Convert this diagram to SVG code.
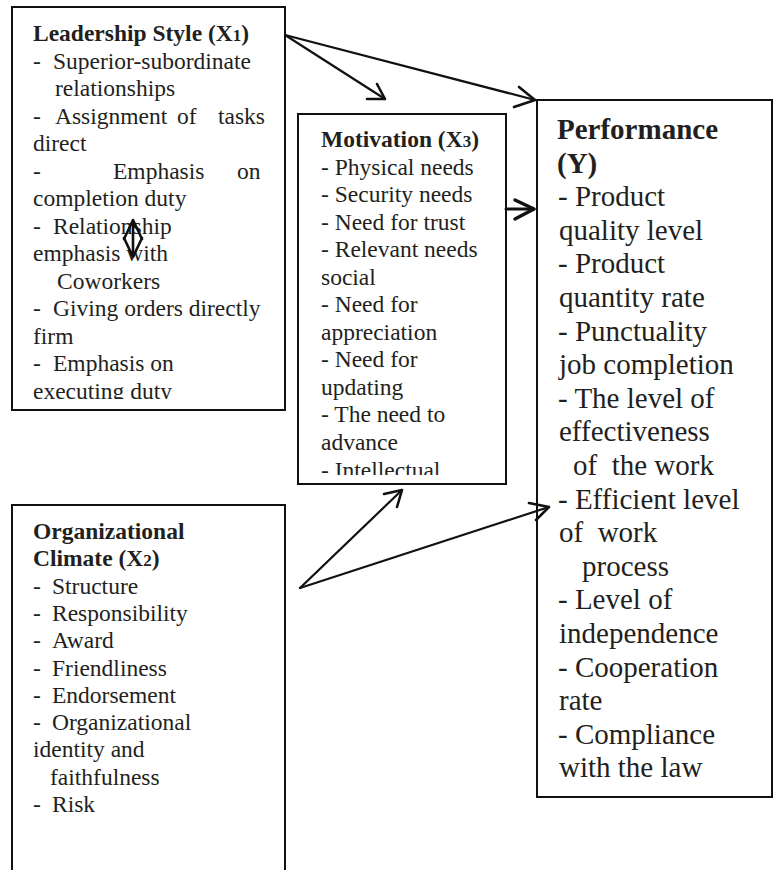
<svg xmlns="http://www.w3.org/2000/svg" width="776" height="870" viewBox="0 0 776 870">
  <defs>
    <style>
      .box { fill: #ffffff; stroke: #111111; stroke-width: 2; }
      .t { font-family: "Liberation Serif", "Times New Roman", serif; font-size: 23.5px; fill: #231f20; }
      .tl { font-family: "Liberation Serif", "Times New Roman", serif; font-size: 29px; fill: #231f20; }
      .b { font-weight: bold; }
      .sub { font-size: 17px; }
      .line { fill: none; stroke: #111111; stroke-width: 2.2; stroke-linecap: round; stroke-linejoin: round; }
      .head { fill: none; stroke: #111111; stroke-width: 2.6; stroke-linecap: round; stroke-linejoin: round; }
    </style>
    <clipPath id="clipLead"><rect x="12" y="7" width="273" height="392"/></clipPath>
    <clipPath id="clipMot"><rect x="298" y="114" width="208" height="361"/></clipPath>
  </defs>

  <rect width="776" height="870" fill="#ffffff"/>

  <!-- Leadership Style (X1) -->
  <g id="leadership">
    <rect class="box" x="12" y="7" width="273" height="403"/>
    <g clip-path="url(#clipLead)">
      <text class="t b" x="33" y="41">Leadership Style (X<tspan class="sub">1</tspan>)</text>
      <text class="t" x="33" y="68.5">-</text>
      <text class="t" x="53" y="68.5">Superior-subordinate</text>
      <text class="t" x="55" y="96">relationships</text>
      <text class="t" x="33" y="123.5">-</text>
      <text class="t" x="55" y="123.5">Assignment</text>
      <text class="t" x="177" y="123.5">of</text>
      <text class="t" x="218" y="123.5">tasks</text>
      <text class="t" x="33" y="151">direct</text>
      <text class="t" x="33" y="178.5">-</text>
      <text class="t" x="113" y="178.5">Emphasis</text>
      <text class="t" x="237" y="178.5">on</text>
      <text class="t" x="33" y="206">completion duty</text>
      <text class="t" x="33" y="233.5">-</text>
      <text class="t" x="53" y="233.5">Relationship</text>
      <text class="t" x="33" y="261">emphasis with</text>
      <text class="t" x="57" y="288.5">Coworkers</text>
      <text class="t" x="33" y="316">-</text>
      <text class="t" x="53" y="316">Giving orders directly</text>
      <text class="t" x="33" y="343.5">firm</text>
      <text class="t" x="33" y="371">-</text>
      <text class="t" x="53" y="371">Emphasis on</text>
      <text class="t" x="33" y="398.5">executing duty</text>
    </g>
    <!-- two-way marker over the wording -->
    <line class="head" x1="133" y1="221" x2="133" y2="256"/>
    <polyline class="head" points="124,239 133,220 142,239"/>
    <polyline class="head" points="124,238 133,257 142,238"/>
  </g>

  <!-- Motivation (X3) -->
  <g id="motivation">
    <rect class="box" x="298" y="114" width="208" height="370"/>
    <g clip-path="url(#clipMot)">
      <text class="t b" x="321" y="147">Motivation (X<tspan class="sub">3</tspan>)</text>
      <text class="t" x="321" y="174.5">- Physical needs</text>
      <text class="t" x="321" y="202">- Security needs</text>
      <text class="t" x="321" y="229.5">- Need for trust</text>
      <text class="t" x="321" y="257">- Relevant needs</text>
      <text class="t" x="321" y="284.5">social</text>
      <text class="t" x="321" y="312">- Need for</text>
      <text class="t" x="321" y="339.5">appreciation</text>
      <text class="t" x="321" y="367">- Need for</text>
      <text class="t" x="321" y="394.5">updating</text>
      <text class="t" x="321" y="422">- The need to</text>
      <text class="t" x="321" y="449.5">advance</text>
      <text class="t" x="321" y="477.5">- Intellectual</text>
    </g>
  </g>

  <!-- Performance (Y) -->
  <g id="performance">
    <rect class="box" x="537" y="100" width="235" height="697"/>
    <text class="tl b" x="557" y="139">Performance</text>
    <text class="tl b" x="557" y="172.6">(Y)</text>
    <text class="tl" x="558" y="206.2">- Product</text>
    <text class="tl" x="559" y="239.8">quality level</text>
    <text class="tl" x="558" y="273.4">- Product</text>
    <text class="tl" x="559" y="307">quantity rate</text>
    <text class="tl" x="558" y="340.6">- Punctuality</text>
    <text class="tl" x="559" y="374.2">job completion</text>
    <text class="tl" x="558" y="407.8">- The level of</text>
    <text class="tl" x="559" y="441.4">effectiveness</text>
    <text class="tl" x="573" y="475" xml:space="preserve">of  the work</text>
    <text class="tl" x="558" y="508.6">- Efficient level</text>
    <text class="tl" x="559" y="542.2" xml:space="preserve">of  work</text>
    <text class="tl" x="582" y="575.8">process</text>
    <text class="tl" x="558" y="609.4">- Level of</text>
    <text class="tl" x="559" y="643">independence</text>
    <text class="tl" x="558" y="676.6">- Cooperation</text>
    <text class="tl" x="559" y="710.2">rate</text>
    <text class="tl" x="558" y="743.8">- Compliance</text>
    <text class="tl" x="559" y="777.4">with the law</text>
  </g>

  <!-- Organizational Climate (X2) -->
  <g id="climate">
    <rect class="box" x="12" y="505" width="273" height="380"/>
    <text class="t b" x="33" y="539">Organizational</text>
    <text class="t b" x="33" y="566.3">Climate (X<tspan class="sub">2</tspan>)</text>
    <text class="t" x="33" y="593.6">-</text>
    <text class="t" x="52" y="593.6">Structure</text>
    <text class="t" x="33" y="620.9">-</text>
    <text class="t" x="52" y="620.9">Responsibility</text>
    <text class="t" x="33" y="648.2">-</text>
    <text class="t" x="52" y="648.2">Award</text>
    <text class="t" x="33" y="675.5">-</text>
    <text class="t" x="52" y="675.5">Friendliness</text>
    <text class="t" x="33" y="702.8">-</text>
    <text class="t" x="52" y="702.8">Endorsement</text>
    <text class="t" x="33" y="730.1">-</text>
    <text class="t" x="52" y="730.1">Organizational</text>
    <text class="t" x="33" y="757.4">identity and</text>
    <text class="t" x="50" y="784.7">faithfulness</text>
    <text class="t" x="33" y="812">-</text>
    <text class="t" x="52" y="812">Risk</text>
  </g>

  <!-- Connectors -->
  <g id="connectors">
    <!-- X1 -> X3 -->
    <line class="line" x1="285" y1="35" x2="385" y2="99"/>
    <polyline class="head" points="367,99 385,99 377,84"/>
    <!-- X1 -> Y -->
    <line class="line" x1="285" y1="35" x2="535" y2="100"/>
    <polyline class="head" points="519,87 535,100 514,107"/>
    <!-- X3 -> Y -->
    <line class="line" x1="506" y1="209" x2="534" y2="209" style="stroke-width:3"/>
    <polyline class="head" points="515,200 534,209 515,219" style="stroke-width:3.4"/>
    <!-- X2 -> X3 -->
    <line class="line" x1="300" y1="588" x2="402" y2="490"/>
    <polyline class="head" points="384,494 402,490 397,507"/>
    <!-- X2 -> Y -->
    <line class="line" x1="300" y1="588" x2="549" y2="507"/>
    <polyline class="head" points="529,503 549,507 536,520"/>
  </g>
</svg>
